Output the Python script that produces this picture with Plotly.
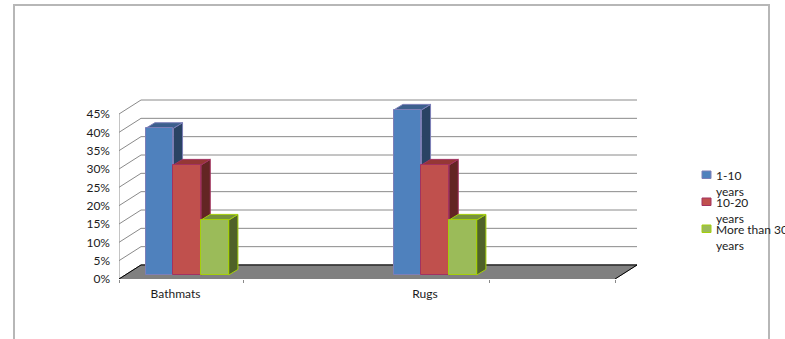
import plotly.graph_objects as go

# Chart data
categories = ["Bathmats", "Rugs"]
series_names = ["1-10 years", "10-20 years", "More than 30 years"]
years_1_10 = [40, 45]
years_10_20 = [30, 30]
years_over_30 = [15, 15]
y_ticks = [0, 5, 10, 15, 20, 25, 30, 35, 40, 45]
y_tick_labels = ["0%", "5%", "10%", "15%", "20%", "25%", "30%", "35%", "40%", "45%"]

W, H = 785, 339
FONT = "Lato"
TEXT = "#1c1c1c"
GRID = "#8a8a8a"

# Pixel scale of the pseudo-3D box
CAT_PX = 248.0
PCT_PX = 165.0 / 45.0
X_LEFT, X_RIGHT = 119, 637
Y_BOTTOM, Y_TOP = 279, 96


def dx(px):
    return px / CAT_PX


def dy(px):
    return px / PCT_PX


x_range = [-0.5, -0.5 + (X_RIGHT - X_LEFT) / CAT_PX]
y_span = (Y_BOTTOM - Y_TOP) / PCT_PX
WALL_DX, WALL_DY = dx(22), dy(14)
BAR_LIFT = dy(4)
BAR_W = dx(27.7)
GROUP_SHIFT = dx(-55.8)
BAR_DX, BAR_DY = dx(9.2), dy(5.6)

FRONT = ["#4f81bd", "#c0504d", "#9bbb59"]
EDGE = ["#7c7fb8", "#a23260", "#a4cf0a"]
SIDE = ["#2a4364", "#632523", "#4f6228"]
TOP = ["#3c5f8d", "#953735", "#76923c"]
values = [years_1_10, years_10_20, years_over_30]

fig = go.Figure()

# Side-wall and back-wall gridlines, with the value axis in front of them
for v in y_ticks:
    fig.add_trace(go.Scatter(
        x=[-0.5, -0.5 + WALL_DX, -0.5 + dx(518)],
        y=[v, v + WALL_DY, v + WALL_DY],
        mode="lines", line=dict(color=GRID, width=1),
        xaxis="x", yaxis="y", showlegend=False, hoverinfo="skip"))
fig.add_trace(go.Scatter(
    x=[-0.5, -0.5], y=[y_ticks[0], y_ticks[-1]],
    mode="lines", line=dict(color=GRID, width=1),
    xaxis="x", yaxis="y", showlegend=False, hoverinfo="skip"))

# Floor of the box
floor_x = [-0.5, -0.5 + WALL_DX, -0.5 + dx(518), -0.5 + dx(496), -0.5]
floor_y = [0, WALL_DY, WALL_DY, 0, 0]
fig.add_trace(go.Scatter(
    x=floor_x, y=floor_y, mode="lines", fill="toself", fillcolor="#808080",
    line=dict(color="#808080", width=1),
    xaxis="x", yaxis="y", showlegend=False, hoverinfo="skip"))
fig.add_trace(go.Scatter(
    x=floor_x[:4], y=floor_y[:4], mode="lines",
    line=dict(color="#000000", width=1),
    xaxis="x", yaxis="y", showlegend=False, hoverinfo="skip"))

# Depth faces of each bar, on a layer below the front faces
for i, series in enumerate(values):
    for c, v in enumerate(series):
        left = c + GROUP_SHIFT + (i - 1.5) * BAR_W
        right = left + BAR_W
        fig.add_trace(go.Scatter(
            x=[right, right + BAR_DX, right + BAR_DX, right, right],
            y=[0, BAR_DY, v + BAR_DY, v, 0],
            mode="lines", fill="toself", fillcolor=SIDE[i],
            line=dict(color=EDGE[i], width=1),
            xaxis="x", yaxis="y2", showlegend=False, hoverinfo="skip"))
        fig.add_trace(go.Scatter(
            x=[left, left + BAR_DX, right + BAR_DX, right, left],
            y=[v, v + BAR_DY, v + BAR_DY, v, v],
            mode="lines", fill="toself", fillcolor=TOP[i],
            line=dict(color=EDGE[i], width=1),
            xaxis="x", yaxis="y2", showlegend=False, hoverinfo="skip"))

# Front faces
for i, series in enumerate(values):
    fig.add_trace(go.Bar(
        x=[c + GROUP_SHIFT + (i - 1) * BAR_W for c in range(len(categories))],
        y=series, width=BAR_W, name=series_names[i],
        marker=dict(color=FRONT[i], line=dict(color=EDGE[i], width=1)),
        xaxis="x", yaxis="y3", showlegend=False))

# Carries the tick marks along the front edge of the floor
fig.add_trace(go.Scatter(
    x=[None], y=[None], xaxis="x2", yaxis="y",
    showlegend=False, hoverinfo="skip"))

domain_y = [1 - Y_BOTTOM / H, 1 - Y_TOP / H]
overlay_range = [-BAR_LIFT, y_span - BAR_LIFT]

annotations = []
legend_shapes = []
legend_rows = [
    ("1-10<br>years", 171, 167),
    ("10-20<br>years", 198, 194),
    ("More than 30<br>years", 225, 221),
]
for i, (label, box_top, text_top) in enumerate(legend_rows):
    legend_shapes.append(dict(
        type="rect", xref="paper", yref="paper",
        x0=702 / W, x1=711 / W, y0=1 - box_top / H, y1=1 - (box_top + 7.5) / H,
        fillcolor=FRONT[i], line=dict(color=EDGE[i], width=1)))
    annotations.append(dict(
        text=label, xref="paper", yref="paper", x=714.5 / W, y=1 - text_top / H,
        xanchor="left", yanchor="top", align="left", showarrow=False,
        font=dict(family=FONT, size=12, color=TEXT),
        borderpad=0))

frame = dict(
    type="path", xref="paper", yref="paper",
    path=f"M {14/W} 0 L {14/W} {1-5/H} L {769/W} {1-5/H} L {769/W} 0",
    line=dict(color="#b7b7b7", width=2))

fig.update_layout(
    width=W, height=H, margin=dict(l=0, r=0, t=0, b=0, autoexpand=False, pad=0),
    paper_bgcolor="white", plot_bgcolor="white",
    barmode="overlay", bargap=0,
    font=dict(family=FONT, size=12, color=TEXT),
    xaxis=dict(
        domain=[X_LEFT / W, X_RIGHT / W], range=x_range, anchor="y", automargin=False,
        tickmode="array",
        tickvals=[c + dx(-67.5) if c == 0 else c + dx(-66) for c in range(len(categories))],
        ticktext=categories, ticks="", ticklabelstandoff=6,
        showgrid=False, zeroline=False, showline=False),
    xaxis2=dict(
        domain=[X_LEFT / W, X_RIGHT / W], range=x_range, overlaying="x", anchor="y",
        automargin=False,
        tickmode="array", tickvals=[-0.5, 0, 0.992, 1.5], ticks="outside", ticklen=3,
        tickcolor=GRID, tickwidth=1, showticklabels=False,
        showgrid=False, zeroline=False, showline=False),
    yaxis=dict(
        domain=domain_y, range=[0, y_span], anchor="x", automargin=False,
        tickmode="array", tickvals=y_ticks, ticktext=y_tick_labels,
        ticks="", ticklabelstandoff=8,
        showgrid=False, zeroline=False, showline=False),
    yaxis2=dict(range=overlay_range, overlaying="y", anchor="x", visible=False),
    yaxis3=dict(range=overlay_range, overlaying="y", anchor="x", visible=False),
    shapes=legend_shapes + [frame],
    annotations=annotations,
)

fig.write_html("out.html", config={"displayModeBar": False})
